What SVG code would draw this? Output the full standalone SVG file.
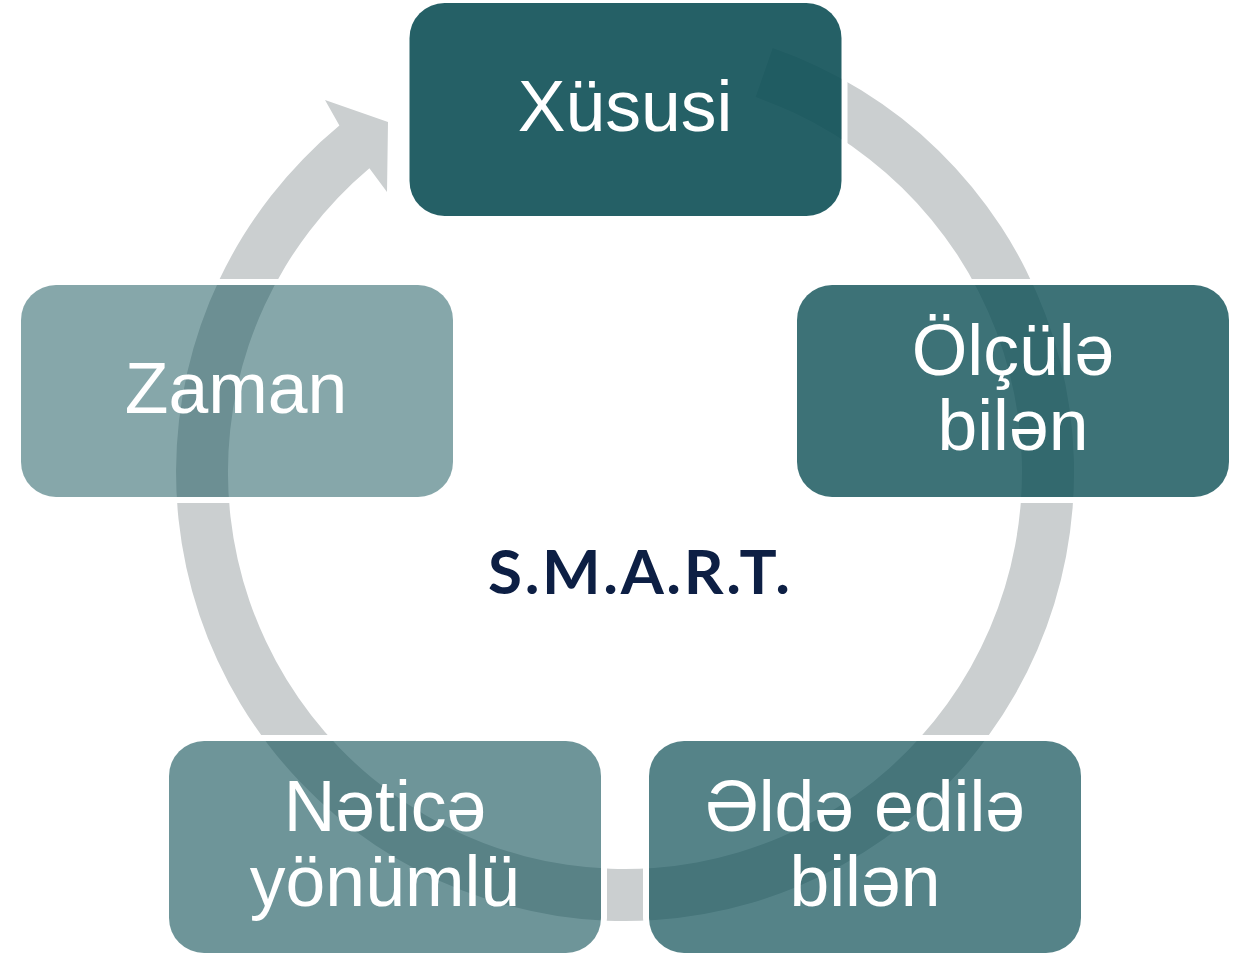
<svg xmlns="http://www.w3.org/2000/svg" width="1243" height="954" viewBox="0 0 1243 954">
<style>
.frame{fill:none;stroke:#ffffff;stroke-width:6}
.box{fill:#0D4F55}
.lbl{font-family:"Liberation Sans",Arial,sans-serif;font-size:71.5px;fill:#ffffff;text-anchor:middle}
.ring{fill:#CBCFD0}
.title{font-family:Lato,"Liberation Sans",sans-serif;font-weight:700;font-size:62px;fill:#0D1F44}
</style>
<rect width="1243" height="954" fill="#ffffff"/>
<g id="connectors">
<path class="ring" d="M772.7,48 A449,449 0 1 1 339.4,125.6 L325,100 L388,122 L387,192 L369.4,168.2 A397,397 0 1 0 755.6,97.1 Z"/>
</g>
<g id="node-xususi">
<rect class="frame" x="406.5" y="0" width="438" height="219" rx="38"/>
<rect class="box" x="409.5" y="3" width="432" height="213" rx="35" fill-opacity="0.9"/>
<text class="lbl" x="625" y="131">Xüsusi</text>
</g>
<g id="node-olcule">
<rect class="frame" x="794" y="282" width="438" height="218" rx="38"/>
<rect class="box" x="797" y="285" width="432" height="212" rx="35" fill-opacity="0.8"/>
<text class="lbl" x="1013" y="375">Ölçülə</text>
<text class="lbl" x="1013" y="450">bilən</text>
</g>
<g id="node-elde">
<rect class="frame" x="646" y="738" width="438" height="218" rx="38"/>
<rect class="box" x="649" y="741" width="432" height="212" rx="35" fill-opacity="0.7"/>
<text class="lbl" x="865" y="831">Əldə edilə</text>
<text class="lbl" x="865" y="906">bilən</text>
</g>
<g id="node-netice">
<rect class="frame" x="166" y="738" width="438" height="218" rx="38"/>
<rect class="box" x="169" y="741" width="432" height="212" rx="35" fill-opacity="0.6"/>
<text class="lbl" x="385" y="831">Nəticə</text>
<text class="lbl" x="385" y="906">yönümlü</text>
</g>
<g id="node-zaman">
<rect class="frame" x="18" y="282" width="438" height="218" rx="38"/>
<rect class="box" x="21" y="285" width="432" height="212" rx="35" fill-opacity="0.5"/>
<text class="lbl" x="236" y="413">Zaman</text>
</g>
<g id="center-title">
<text class="title" x="488" y="594" textLength="302" lengthAdjust="spacing">S.M.A.R.T.</text>
</g>
</svg>
